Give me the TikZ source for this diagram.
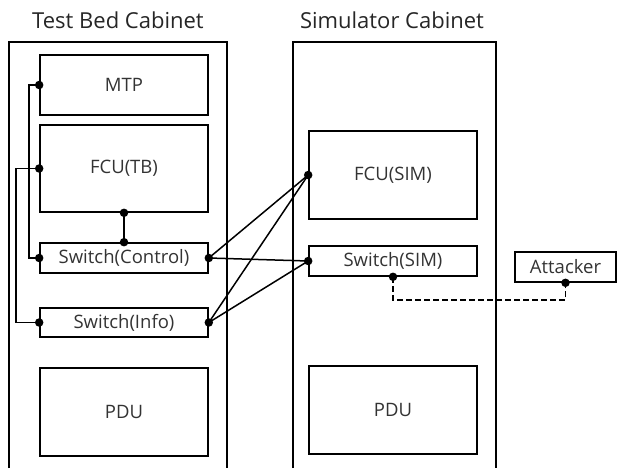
\documentclass[tikz,border=0pt]{standalone}
\usepackage{fontspec}
\setmainfont{Open Sans}
\usetikzlibrary{positioning}

\tikzset{
  unit/.style={draw, line width=1.6pt, minimum width=168pt, text=black!80, font=\fontsize{18.5}{20}\selectfont},
  port/.style={circle, fill, inner sep=0pt, minimum size=8.5pt},
  title/.style={text=black!85, font=\fontsize{22}{24}\selectfont},
}

\begin{document}
\begin{tikzpicture}[x=1pt, y=-1pt, line width=1.5pt]
            \useasboundingbox (0,0) rectangle (617,468);

            % cabinets
            \node[title] (tbtitle) at (118,20) {Test Bed Cabinet};
            \node[title] (simtitle) at (392,20) {Simulator Cabinet};
            \draw[line width=1.6pt] (9,468) -- (9,42) -- (227,42) -- (227,468);
            \draw[line width=1.6pt] (293,468) -- (293,42) -- (496,42) -- (496,468);

            \node[unit, minimum height=60pt] (mtp)    at (124,85)    {MTP};
            \node[unit, minimum height=87pt] (fcutb)  at (124,168.5) {FCU(TB)};
            \node[unit, minimum height=30pt] (swctl)  at (124,258)   {Switch(Control)};
            \node[unit, minimum height=29pt] (swinfo) at (124,322.5) {Switch(Info)};
            \node[unit, minimum height=88pt] (pdutb)  at (124,412)   {PDU};

            \node[unit, minimum height=88pt] (fcusim) at (393,175)   {FCU(SIM)};
            \node[unit, minimum height=30pt] (swsim)  at (393,261)   {Switch(SIM)};
            \node[unit, minimum height=88pt] (pdusim) at (393,410)   {PDU};

            \node[unit, minimum width=101pt, minimum height=30pt] (attacker) at (565.5,267) {Attacker};

            % links
            \draw (mtp.west) -- ++(-10,0) |- (swctl.west);
            \draw (fcutb.west) -- ++(-23,0) |- (swinfo.west);
            \draw (fcutb.south) -- (swctl.north);
            \draw (swctl.east) -- (fcusim.west);
            \draw (swctl.east) -- (swsim.west);
            \draw (swinfo.east) -- (fcusim.west);
            \draw (swinfo.east) -- (swsim.west);
            \draw[dash pattern=on 6pt off 3pt] (swsim.south) -- ++(0,23) -| (attacker.south);

            \foreach \p in {mtp.west, fcutb.west, fcutb.south, swctl.north, swctl.west,
                            swctl.east, swinfo.west, swinfo.east, fcusim.west,
                            swsim.west, swsim.south, attacker.south}
                \node[port] at (\p) {};
        \end{tikzpicture}
\end{document}
